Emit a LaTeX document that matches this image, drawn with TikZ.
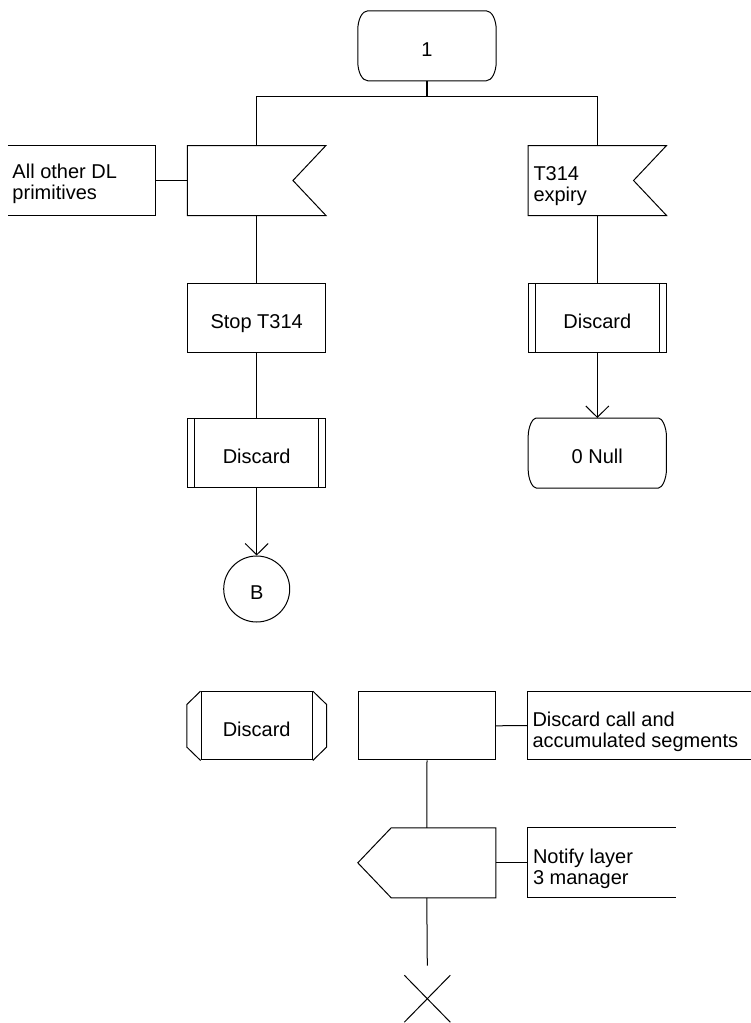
\documentclass[tikz,border=0pt]{standalone}
\usepackage{fontspec}
\setmainfont{Liberation Sans}
\usetikzlibrary{arrows.meta,calc,shapes.misc}
\newcommand\twoline[2]{\begin{tabular}[t]{@{}l@{}}#1\\#2\end{tabular}}
\newcommand\stateshape[2]{%
 \draw ($(#1.north west)+(#2,0)$) -- ($(#1.north east)+(-#2,0)$)
   .. controls ($(#1.north east)+(-4.5,0)$) and ($(#1.north east)+(0,8.5)$) .. ($(#1.north east)+(0,19)$)
   -- ($(#1.south east)+(0,-19)$)
   .. controls ($(#1.south east)+(0,-8.5)$) and ($(#1.south east)+(-4.5,0)$) .. ($(#1.south east)+(-#2,0)$)
   -- ($(#1.south west)+(#2,0)$)
   .. controls ($(#1.south west)+(4.5,0)$) and ($(#1.south west)+(0,-8.5)$) .. ($(#1.south west)+(0,-19)$)
   -- ($(#1.north west)+(0,19)$)
   .. controls ($(#1.north west)+(0,8.5)$) and ($(#1.north west)+(4.5,0)$) .. cycle;}
\begin{document}
\begin{tikzpicture}[x=1pt,y=-1pt,line width=1pt,
  every node/.style={font=\fontsize{20}{21}\selectfont, inner sep=0pt},
  box/.style={rectangle, minimum width=137.5pt, minimum height=69pt, text height=21.4pt, text depth=0pt},
  comment/.style={rectangle, minimum width=146.7pt, minimum height=69pt},
  txt/.style={anchor=base west},
  flow/.style={-{Straight Barb[length=11.3pt,width=23pt]}},
  heavy/.style={line width=2pt}]
\useasboundingbox (0,0) rectangle (751,1023);

% state 1
\node[box, minimum width=137.4pt] (s1) at (427,45.8) {1};
\stateshape{s1}{10}
\coordinate (bar) at (427,96);
\draw[heavy] (s1.south) -- (bar);

% inputs
\node[box] (in1) at (256.7,180.5) {};
\draw (in1.north west) -- (in1.north east) -- ($(in1.east)+(-33,0)$) -- (in1.south east) -- (in1.south west) -- cycle;
\node[box] (in2) at (597.3,180.5) {};
\draw (in2.north west) -- (in2.north east) -- ($(in2.east)+(-33,0)$) -- (in2.south east) -- (in2.south west) -- cycle;
\node[txt] (in2t) at (533,180) {\twoline{T314}{expiry}};
\draw (in1.north) -- (in1.north |- bar) -- (in2.north |- bar) -- (in2.north);

% comment left
\node[comment] (c1) at (81.65,180.5) {};
\draw (c1.north west) -- (c1.north east) -- (c1.south east) -- (c1.south west);
\node[txt] (c1t) at (12,178) {\twoline{All other DL}{primitives}};
\draw (c1.east) -- (in1.west);

% left column
\node[box, draw] (stop) at (256.7,318) {Stop T314};
\node[box, draw] (p1) at (256.7,453) {Discard};
\draw ($(p1.north west)+(7,0)$) -- ($(p1.south west)+(7,0)$)
      ($(p1.north east)+(-7,0)$) -- ($(p1.south east)+(-7,0)$);
\node[circle, draw, minimum size=66pt, text height=21.4pt, text depth=0pt] (B) at (256.7,589) {B};
\draw (in1.south) -- (stop.north);
\draw (stop.south) -- (p1.north);
\draw[flow] (p1.south) -- (B.north);

% right column
\node[box, draw] (p2) at (597.3,318) {Discard};
\draw ($(p2.north west)+(7,0)$) -- ($(p2.south west)+(7,0)$)
      ($(p2.north east)+(-7,0)$) -- ($(p2.south east)+(-7,0)$);
\node[box, minimum width=137.3pt] (null) at (597.3,453) {0 Null};
\stateshape{null}{8}
\draw (in2.south) -- (p2.north);
\draw[flow] (p2.south) -- (null.north);

% procedure start (macro)
\node[box, draw, minimum width=111.3pt, minimum height=68.3pt] (mac) at (256.7,725.8) {Discard};
\draw (mac.north west) -- ++(-13.7,13.3) -- ($(mac.south west)+(-13.7,-13.3)$) -- (mac.south west);
\draw (mac.north east) -- ++(13.7,13.3) -- ($(mac.south east)+(13.7,-13.3)$) -- (mac.south east);

% task
\node[box, draw, minimum width=137.4pt, minimum height=68.3pt] (task) at (427,725.8) {};
\node[comment, minimum width=222.7pt, minimum height=67.6pt] (c2) at (639.65,725.5) {};
\draw (c2.north east) -- (c2.north west) -- (c2.south west) -- (c2.south east);
\node[txt] (c2t) at (532,726.5) {\twoline{Discard call and}{accumulated segments}};
\draw (task.east) -- (c2.west);

% output
\node[box, minimum width=137pt] (out) at (426.8,862.8) {};
\draw (out.west) -- ($(out.north west)+(33.4,0)$) -- (out.north east) -- (out.south east) -- ($(out.south west)+(33.4,0)$) -- cycle;
\node[comment] (c3) at (601.65,862.8) {};
\draw (c3.north east) -- (c3.north west) -- (c3.south west) -- (c3.south east);
\node[txt] (c3t) at (532.5,863) {\twoline{Notify layer}{3 manager}};
\draw (out.east) -- (c3.west);
\draw (task.south) -- (out.north);

% stop
\node[cross out, draw, minimum width=45pt, minimum height=46pt] (term) at (427.3,998.7) {};
\coordinate (termtop) at (427.3,965.7);
\draw (out.south) -- (termtop);
\end{tikzpicture}
\end{document}
